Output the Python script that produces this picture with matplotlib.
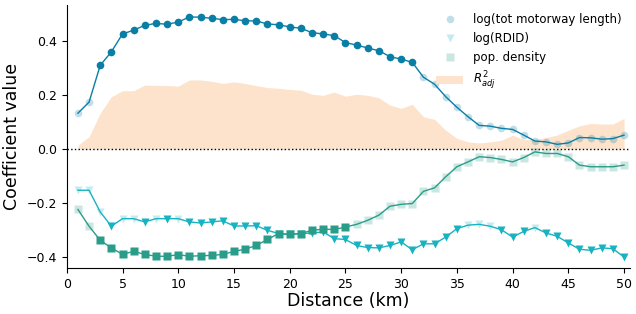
import matplotlib
matplotlib.use("Agg")
import matplotlib.pyplot as plt
import numpy as np

dist = np.arange(1, 51)

motorway = [0.133, 0.174, 0.31, 0.36, 0.426, 0.44, 0.458, 0.465, 0.462, 0.47,
            0.489, 0.488, 0.484, 0.479, 0.48, 0.475, 0.474, 0.463, 0.46, 0.452,
            0.447, 0.431, 0.426, 0.42, 0.394, 0.385, 0.374, 0.364, 0.342, 0.333,
            0.321, 0.266, 0.24, 0.194, 0.155, 0.12, 0.088, 0.085, 0.077, 0.073,
            0.052, 0.03, 0.027, 0.018, 0.023, 0.043, 0.042, 0.037, 0.039, 0.052]
rdid = [-0.152, -0.152, -0.232, -0.285, -0.257, -0.257, -0.269, -0.257, -0.257, -0.257,
        -0.269, -0.273, -0.269, -0.265, -0.284, -0.284, -0.283, -0.3, -0.312, -0.315,
        -0.312, -0.31, -0.306, -0.331, -0.334, -0.356, -0.364, -0.365, -0.356, -0.343,
        -0.372, -0.35, -0.35, -0.325, -0.294, -0.281, -0.278, -0.285, -0.298, -0.325,
        -0.304, -0.29, -0.31, -0.322, -0.347, -0.37, -0.374, -0.365, -0.368, -0.399]
popdens = [-0.223, -0.285, -0.337, -0.365, -0.389, -0.378, -0.389, -0.396, -0.396, -0.39,
           -0.396, -0.394, -0.393, -0.389, -0.378, -0.37, -0.356, -0.334, -0.312, -0.315,
           -0.312, -0.3, -0.296, -0.297, -0.288, -0.278, -0.263, -0.244, -0.211, -0.204,
           -0.201, -0.156, -0.143, -0.102, -0.065, -0.047, -0.028, -0.031, -0.038, -0.047,
           -0.031, -0.01, -0.016, -0.016, -0.028, -0.059, -0.065, -0.065, -0.065, -0.059]
r2adj = [0.015, 0.046, 0.133, 0.194, 0.216, 0.216, 0.237, 0.236, 0.235, 0.233,
         0.256, 0.256, 0.251, 0.243, 0.249, 0.243, 0.235, 0.228, 0.225, 0.221,
         0.218, 0.203, 0.199, 0.211, 0.196, 0.203, 0.199, 0.19, 0.163, 0.151,
         0.166, 0.12, 0.11, 0.07, 0.04, 0.027, 0.023, 0.027, 0.033, 0.052,
         0.036, 0.036, 0.043, 0.052, 0.07, 0.086, 0.095, 0.093, 0.093, 0.114]

# significant (opaque marker) distances
sig_motorway = list(range(3, 32))
sig_rdid = [4, 7, 9] + list(range(11, 36)) + [39, 40, 41] + list(range(43, 51))
sig_pop = list(range(3, 26))

c_mot = "#0a7ea4"
c_rdid = "#17b3c1"
c_pop = "#2a9d8a"
c_fill = "#fde3cc"

fig, ax = plt.subplots(figsize=(6.36, 3.14), dpi=100)
fig.subplots_adjust(left=0.105, right=0.99, bottom=0.146, top=0.984)

ax.fill_between(dist, 0, r2adj, color=c_fill, lw=0, label=r"$R^2_{adj}$")
ax.axhline(0, color="black", ls=":", lw=1)

series = [(motorway, sig_motorway, c_mot, "o", "log(tot motorway length)"),
          (rdid, sig_rdid, c_rdid, "v", "log(RDID)"),
          (popdens, sig_pop, c_pop, "s", "pop. density")]
for vals, sig, col, mk, lab in series:
    vals = np.array(vals)
    ax.plot(dist, vals, color=col, lw=1, zorder=3)
    m = np.isin(dist, sig)
    ax.plot(dist[~m], vals[~m], ls="none", marker=mk, ms=5.5, color=col, alpha=0.25,
            mec="none", zorder=3, label=lab)
    ax.plot(dist[m], vals[m], ls="none", marker=mk, ms=5.5, color=col,
            mec="none", zorder=4)

h, l = ax.get_legend_handles_labels()
order = [1, 2, 3, 0]
ax.legend([h[i] for i in order], [l[i] for i in order], loc="upper right",
          frameon=False, fontsize=8.5, handlelength=2.3, borderaxespad=0.3)

ax.set_xlim(0, 50.5)
ax.set_ylim(-0.44, 0.533)
ax.set_xticks(range(0, 51, 5))
ax.set_yticks([-0.4, -0.2, 0.0, 0.2, 0.4])
ax.tick_params(labelsize=9)
ax.spines["top"].set_visible(False)
ax.spines["right"].set_visible(False)
ax.set_xlabel("Distance (km)", fontsize=12.5, labelpad=1)
ax.set_ylabel("Coefficient value", fontsize=12.5)

plt.savefig("out.png")
